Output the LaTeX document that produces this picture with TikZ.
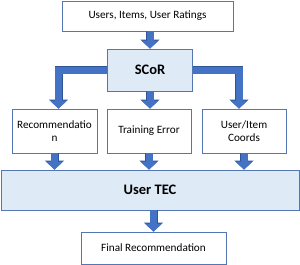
\documentclass[tikz,border=0pt]{standalone}
\usepackage{fontspec}
\setmainfont{Carlito}
\usetikzlibrary{arrows.meta}
\definecolor{arrowblue}{RGB}{68,114,196}
\definecolor{arrowdark}{RGB}{47,85,151}
\definecolor{boxline}{RGB}{84,118,178}
\definecolor{lightfill}{RGB}{222,235,247}
\begin{document}
\begin{tikzpicture}[x=1pt,y=-1pt,
  plainbox/.style={draw=boxline, line width=0.9pt, fill=white, rectangle, inner sep=0pt, align=center,
    font=\fontsize{11.2}{13.2}\selectfont},
  bluebox/.style={plainbox, fill=lightfill, font=\fontsize{14.5}{17}\selectfont\bfseries},
  bigarrow/.style={line width=7pt, draw=arrowblue, line join=miter,
    -{Triangle[width=17pt,length=8pt]},
    preaction={draw=arrowdark, line width=8pt, line join=miter, -{Triangle[width=18.5pt,length=9pt]}}}
]
\useasboundingbox[fill=white] (0,0) rectangle (300,265);

\node[plainbox, minimum width=171pt, minimum height=30pt] (top) at (147.5,16) {Users, Items, User Ratings};
\node[bluebox, minimum width=85pt, minimum height=42pt] (scor) at (150,70) {SCoR};
\node[plainbox, minimum width=85pt, minimum height=44pt] (rec) at (54.5,131) {Recommendatio\\n};
\node[plainbox, minimum width=84pt, minimum height=44pt] (terr) at (149,131) {Training Error};
\node[plainbox, minimum width=84pt, minimum height=44pt] (uic) at (244,131) {User/Item\\Coords};
\node[bluebox, minimum width=298pt, minimum height=40pt] (tec) at (150,190) {User TEC};
\node[plainbox, minimum width=145pt, minimum height=32pt] (final) at (153.5,248) {Final Recommendation};

\coordinate (recin) at ([xshift=4pt]rec.north);
\coordinate (uicin) at ([xshift=-5pt]uic.north);

\draw[bigarrow] (top.south -| scor.north) -- (scor.north);
\draw[bigarrow] (scor.west) -| (recin);
\draw[bigarrow] (scor.south) -- (scor.south |- terr.north);
\draw[bigarrow] (scor.east) -| (uicin);
\draw[bigarrow] (rec.south) -- (rec.south |- tec.north);
\draw[bigarrow] (terr.south) -- (terr.south |- tec.north);
\draw[bigarrow] (uic.south) -- (uic.south |- tec.north);
\draw[bigarrow] (tec.south -| final.north) -- (final.north);
\end{tikzpicture}
\end{document}
